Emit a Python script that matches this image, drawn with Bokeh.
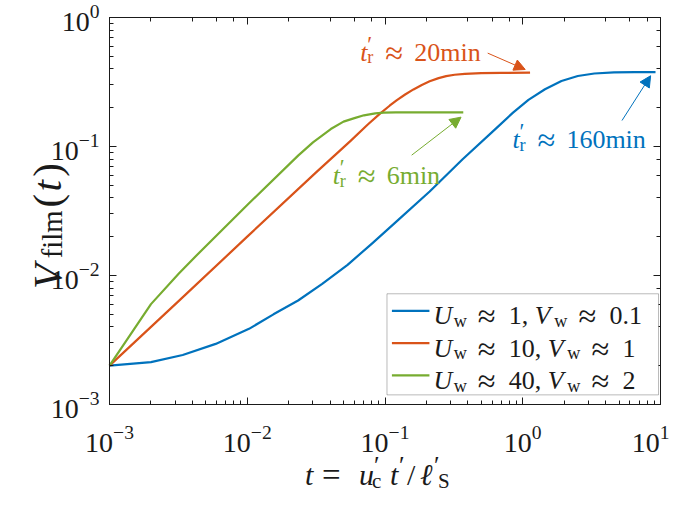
import math
from bokeh.plotting import figure
from bokeh.models import LogAxis, Label, Arrow, NormalHead, BoxAnnotation, Range1d
from bokeh.embed import file_html
from bokeh.resources import INLINE

# ---------------- data ----------------
blue_t = [0.001, 0.002, 0.0034, 0.0059, 0.0103, 0.0155, 0.0234, 0.035, 0.0535, 0.08, 0.122, 0.211,
          0.366, 0.635, 0.85, 1.10, 1.45, 1.91, 2.51, 3.31, 4.60, 6.5, 9.2]
blue_v = [0.0020, 0.00213, 0.00242, 0.00295, 0.00386, 0.0050, 0.0064, 0.0086, 0.0121, 0.0176, 0.0264,
          0.0448, 0.0796, 0.137, 0.183, 0.230, 0.278, 0.322, 0.352, 0.368, 0.375, 0.377, 0.377]

orange_t = [0.001, 0.00316, 0.01, 0.0316, 0.056, 0.075, 0.092, 0.108, 0.122, 0.14, 0.161, 0.185,
            0.211, 0.245, 0.278, 0.32, 0.38, 0.50, 0.70, 1.13]
orange_v = [0.0020, 0.0063, 0.020, 0.063, 0.110, 0.148, 0.180, 0.207, 0.229, 0.253, 0.277, 0.300,
            0.320, 0.339, 0.351, 0.360, 0.366, 0.370, 0.372, 0.374]

green_t = [0.001, 0.002, 0.0032, 0.0045, 0.0103, 0.0234, 0.03, 0.0404, 0.05, 0.06, 0.0703, 0.085,
           0.098, 0.12, 0.37]
green_v = [0.0020, 0.0060, 0.0104, 0.0151, 0.0363, 0.085, 0.1076, 0.1366, 0.156, 0.166, 0.1745,
           0.1805, 0.1832, 0.1838, 0.184]

series_colors = ["#0072BD", "#D95319", "#77AC30"]
legend_U = ["1", "10", "40"]
legend_V = ["0.1", "1", "2"]
release_times = ["160min", "20min", "6min"]

x_lim = (1e-3, 1e1)
y_lim = (1e-3, 1e0)

# ---------------- layout (canvas pixels) ----------------
W, H = 669, 495
XL, XR = 109, 660     # plot box left / right
YT, YB = 17, 404      # plot box top / bottom
XDEC = math.log10(x_lim[1]) - math.log10(x_lim[0])
YDEC = math.log10(y_lim[1]) - math.log10(y_lim[0])
xd = XDEC / (XR - XL)
yd = YDEC / (YB - YT)
INK = "#1a1a1a"
FONT = "Liberation Serif"

x_range = Range1d(10 ** (math.log10(x_lim[0]) - XL * xd),
                  10 ** (math.log10(x_lim[1]) + (W - XR) * xd))
y_range = Range1d(10 ** (math.log10(y_lim[0]) - (H - YB) * yd),
                  10 ** (math.log10(y_lim[1]) + YT * yd))


def X(px):
    return 10 ** (math.log10(x_lim[0]) + (px - XL) * xd)


def Y(py):
    return 10 ** (math.log10(y_lim[0]) + (YB - py) * yd)


def rx(px_ref):  # reference plot-box column -> ours
    return XL + (px_ref - 109) * (XR - XL) / 558.0


def ry(py_ref):  # reference plot-box row -> ours
    return YT + (py_ref - 16) * (YB - YT) / 402.0


p = figure(width=W, height=H, x_axis_type="log", y_axis_type="log",
           x_range=x_range, y_range=y_range,
           output_backend="svg", toolbar_location=None, min_border=0)
p.grid.visible = False
p.outline_line_color = None
p.background_fill_color = "white"
p.border_fill_color = "white"

xb = p.xaxis[0]
yl = p.yaxis[0]
xb.fixed_location = y_lim[0]
yl.fixed_location = x_lim[0]
xt = LogAxis(fixed_location=y_lim[1])
yr = LogAxis(fixed_location=x_lim[1])
p.add_layout(xt, "above")
p.add_layout(yr, "right")

for ax in (xb, xt):
    ax.bounds = x_lim
for ax in (yl, yr):
    ax.bounds = y_lim

for ax in (xb, xt, yl, yr):
    ax.axis_line_color = INK
    ax.major_tick_line_color = INK
    ax.minor_tick_line_color = INK
    ax.major_tick_in = 7
    ax.major_tick_out = 0
    ax.minor_tick_in = 4
    ax.minor_tick_out = 0
    ax.major_label_text_font = FONT
    ax.major_label_text_color = INK
    ax.major_label_text_font_size = "28px"

for ax in (xt, yr):
    ax.major_label_text_font_size = "4px"
    ax.major_label_text_alpha = 0.0
xb.major_label_standoff = 21
yl.major_label_standoff = 10

# ---------------- curves ----------------
for t, v, c in [(blue_t, blue_v, series_colors[0]),
                (orange_t, orange_v, series_colors[1]),
                (green_t, green_v, series_colors[2])]:
    p.line(t, v, line_color=c, line_width=2.2, line_join="round")

# ---------------- math-like text composer ----------------
CMW = {"0": .5, "1": .5, "2": .5, "4": .5, "6": .5, ".": .278, ",": .278, "m": .833, "i": .278,
       "n": .556, "f": .306, "l": .278, "(": .389, ")": .389, "/": .5, "=": .778, "≈": .778,
       "r": .392, "c": .444, "S": .556, "w": .722, "t": .361, "u": .572, "U": .78, "V": .75,
       "ℓ": .42, "′": .275, " ": .278}


def compose(items, x0, y0, size, color, angle=0.0):
    """items: (text, italic, scale, dy_em, step); step None -> CM width, number -> em,
    ('at', px) -> absolute offset along the text."""
    ca, sa = math.cos(angle), math.sin(angle)
    adv = 0.0
    for text, italic, scale, dy_em, step in items:
        if isinstance(step, tuple):
            adv = step[1]
        fs = size * scale
        off = dy_em * size
        px = x0 + adv * ca + off * sa
        py = y0 - adv * sa + off * ca
        if text.strip():
            p.add_layout(Label(x=X(px), y=Y(py), text=text, angle=angle,
                               text_font=FONT, text_font_size=f"{fs:.1f}px",
                               text_font_style="italic" if italic else "normal",
                               text_color=color, text_align="left",
                               text_baseline="alphabetic", level="overlay"))
        if step is None:
            adv += sum(CMW.get(ch, .5) for ch in text) * fs
        elif not isinstance(step, tuple):
            adv += step * size


def it(s, at=None):
    return (s, True, 1.0, 0.0, ("at", at) if at is not None else None)


def rm(s, at=None):
    return (s, False, 1.0, 0.0, ("at", at) if at is not None else None)


def rel(s, at=None, scale=1.25):  # wide relation symbol (CM-like)
    return (s, False, scale, 0.02, ("at", at) if at is not None else 0.778)


def sub(s, at=None, dy=0.2):
    return (s, False, 0.7, dy, ("at", at) if at is not None else None)


def sup(s, at=None):
    return (s, False, 0.85, -0.3, ("at", at) if at is not None else 0)


def sp(em):
    return ("", False, 1.0, 0.0, em)


# axis labels
compose([it("V"), sub("film", dy=0.13), sp(0.05), rm("("), it("t"), rm(")")],
        46, ry(298), 41, INK, math.pi / 2)
compose([it("t", 0), rel("=", 17, 1.1), it("u", 54), sup("′", 69), sub("c", 67), it("t", 85),
         sup("′", 94), rm("/", 102), it("ℓ", 115), sup("′", 129), sub("S", 133)],
        rx(307), 474, 30, INK)

# ---------------- release-time annotations (reference pixel positions) ----------------
ann = [  # (text start x, baseline y, arrow start, arrow tip)
    (517, 143, (628, 123), (657, 76.5)),
    (363, 52, (492, 53), (530, 70)),
    (335, 180, (415, 159), (465, 119.5)),
]
for (x0, y0, a0, a1), c, rt in zip(ann, series_colors, release_times):
    compose([it("t", 0), sup("′", 7), sub("r", 7), rel("≈", 25), rm(rt, 54)], rx(x0), ry(y0), 26, c)
    p.add_layout(Arrow(x_start=X(rx(a0[0])), y_start=Y(ry(a0[1])),
                       x_end=X(rx(a1[0])), y_end=Y(ry(a1[1])),
                       line_color=c, line_width=1, level="overlay",
                       end=NormalHead(size=11, fill_color=c, line_color=c, line_width=1)))

# ---------------- legend ----------------
p.add_layout(BoxAnnotation(left=X(rx(390)), right=X(rx(665)), top=Y(ry(303)), bottom=Y(ry(408)),
                           fill_color="white", fill_alpha=1.0, line_color=INK, line_width=1,
                           level="overlay"))
for i, (c, u, v) in enumerate(zip(series_colors, legend_U, legend_V)):
    base = ry(326 + 33.5 * i)
    p.add_layout(Arrow(x_start=X(rx(395)), y_start=Y(base - 5), x_end=X(rx(433)), y_end=Y(base - 5),
                       line_color=c, line_width=2.2, end=None, start=None, level="overlay"))
    compose([it("U"), sub("w"), sp(0.42), rel("≈"), sp(0.42), rm(u + ","), sp(0.22), it("V"),
             sub("w"), sp(0.42), rel("≈"), sp(0.42), rm(v)], rx(437), base, 26, INK)

open("out.html", "w").write(file_html(p, INLINE))
